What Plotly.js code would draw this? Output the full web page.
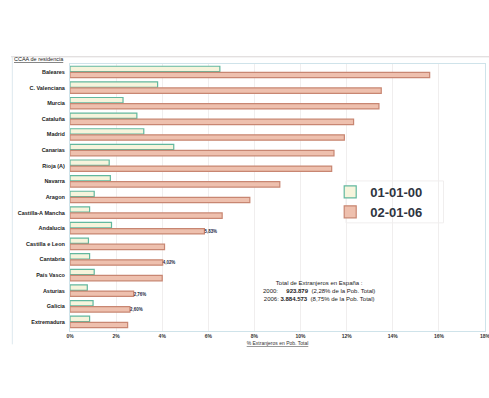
<!DOCTYPE html>
<html>
<head>
<meta charset="utf-8">
<script src="https://cdn.plot.ly/plotly-3.0.1.min.js"></script>
<style>
  html, body { margin: 0; padding: 0; background: #ffffff; }
  #chart { width: 489px; height: 398px; }
</style>
</head>
<body>
<div id="chart"></div>
<script>
// Comunidades autónomas, ordered by share of foreign residents in 2006
const regiones = [
  "Baleares", "C. Valenciana", "Murcia", "Cataluña", "Madrid", "Canarias",
  "Rioja (A)", "Navarra", "Aragon", "Castilla-A Mancha", "Andalucía",
  "Castilla e Leon", "Cantabria", "País Vasco", "Asturias", "Galicia", "Extremadura"
];
// % of foreign residents in total population
const pct2000 = [6.5, 3.8, 2.3, 2.9, 3.2, 4.5, 1.7, 1.75, 1.05, 0.85, 1.8, 0.8, 0.85, 1.05, 0.75, 1.0, 0.85];
const pct2006 = [15.6, 13.5, 13.4, 12.3, 11.9, 11.45, 11.35, 9.1, 7.8, 6.6, 5.83, 4.1, 4.02, 4.0, 2.76, 2.6, 2.5];
// Bars that carry a value label in the 2006 series
const etiquetados = ["Andalucía", "Cantabria", "Asturias", "Galicia"];
const serieNombres = ["01-01-00", "02-01-06"];
const tickVals = [0, 2, 4, 6, 8, 10, 12, 14, 16, 18];
const tickText = tickVals.map(v => v + "%");

const fmt = v => v.toFixed(2).replace(".", ",") + "%";
const etiquetas2006 = regiones.map((r, i) => etiquetados.includes(r) ? fmt(pct2006[i]) : "");

const FONT = "Liberation Sans, Arial, sans-serif";

const traces = [
  {
    type: "bar", orientation: "h", name: serieNombres[0],
    y: regiones, x: pct2000,
    marker: { color: "#f6f4dc", line: { color: "#62b89e", width: 1.2 } },
    hoverinfo: "skip"
  },
  {
    type: "bar", orientation: "h", name: serieNombres[1],
    y: regiones, x: pct2006,
    text: etiquetas2006, textposition: "outside", cliponaxis: false,
    textfont: { family: FONT, size: 5, color: "#1d2a44", weight: "bold" },
    marker: { color: "#eec0ae", line: { color: "#c88672", width: 1.2 } },
    hoverinfo: "skip"
  }
];

const layout = {
  width: 489, height: 398,
  margin: { l: 70, r: 4, t: 64, b: 67 },
  paper_bgcolor: "#ffffff", plot_bgcolor: "#ffffff",
  font: { family: FONT, color: "#222222" },
  barmode: "group", bargap: 0.22, bargroupgap: 0.12,
  showlegend: true,
  legend: {
    x: 0.627, y: 0.577, xanchor: "left", yanchor: "top",
    traceorder: "normal",
    bgcolor: "rgba(255,255,255,0)", bordercolor: "rgba(0,0,0,0)", borderwidth: 0,
    font: { family: FONT, size: 13, color: "#2e3440", weight: "bold" },
    itemwidth: 30, tracegroupgap: 0
  },
  xaxis: {
    range: [0, 18], tickvals: tickVals, ticktext: tickText,
    ticklabeloverflow: "allow",
    tickfont: { family: FONT, size: 5, color: "#333333", weight: "bold" },
    showgrid: true, gridcolor: "#f0eeee", gridwidth: 1,
    zeroline: false, showline: true, linecolor: "#cfe3ea", mirror: true,
    ticks: "",
    title: { text: "<u>% Extranjeros en Pob. Total</u>", font: { family: FONT, size: 5, color: "#333333" }, standoff: 3 }
  },
  yaxis: {
    type: "category", categoryorder: "array", categoryarray: regiones,
    range: [16.58, -0.51],
    tickfont: { family: FONT, size: 5.5, color: "#222222", weight: "bold" },
    ticks: "", showgrid: false, showline: true, linecolor: "#cfe3ea", mirror: true,
    ticklabelstandoff: 3
  },
  annotations: [
    {
      xref: "paper", yref: "paper", x: -0.14, y: 1.0, xanchor: "left", yanchor: "bottom",
      text: "<u>CCAA de residencia</u>", showarrow: false,
      font: { family: FONT, size: 5.5, color: "#222222" }
    },
    {
      xref: "paper", yref: "paper", x: 0.6, y: 0.2, xanchor: "center", yanchor: "top",
      align: "center", showarrow: false,
      text: "Total de Extranjeros en España :<br>2000:     <b>923.879</b>  (2,28% de la Pob. Total)<br>2006: <b>3.884.573</b>  (8,75% de la Pob. Total)",
      font: { family: FONT, size: 6, color: "#222222" }
    }
  ],
  shapes: [
    // outer frame of the chart block
    { type: "line", xref: "paper", yref: "paper", x0: -0.142, x1: 1.01, y0: 1.027, y1: 1.027, line: { color: "#d8d4d4", width: 1 } },
    { type: "line", xref: "paper", yref: "paper", x0: -0.139, x1: -0.139, y0: 1.027, y1: -0.05, line: { color: "#dde8ee", width: 1 } },
    // light panel behind the legend
    { type: "rect", xref: "paper", yref: "paper", x0: 0.665, x1: 0.9, y0: 0.405, y1: 0.562, fillcolor: "#ffffff", line: { color: "#f0eeee", width: 1 }, layer: "below" }
  ]
};

Plotly.newPlot("chart", traces, layout, { displayModeBar: false, staticPlot: true });
</script>
</body>
</html>
